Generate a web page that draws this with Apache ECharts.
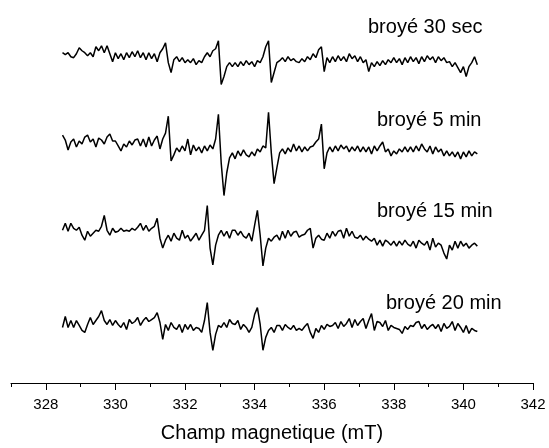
<!DOCTYPE html>
<html>
<head>
<meta charset="utf-8">
<script src="https://cdn.jsdelivr.net/npm/echarts@6/dist/echarts.min.js"></script>
<style>html,body{margin:0;padding:0;background:#fff}#c{width:549px;height:448px}</style>
</head>
<body>
<div id="c"></div>
<script>
// Field grid (mT) shared by all spectra
const fieldStart = 328.48;
const fieldStep = 0.08;
const xTicks = [328, 330, 332, 334, 336, 338, 340, 342];
const labels = ['broyé 30 sec', 'broyé 5 min', 'broyé 15 min', 'broyé 20 min'];

// EPR signal (arbitrary units, relative to each trace baseline)
const tr30sec = [
  2,0,2,-2,-3,1,7,4,2,-1,
  2,-2,8,4,9,2,9,1,-7,2,
  -4,1,-5,2,-3,3,-2,4,-3,2,
  -5,2,-4,1,-7,2,6,12,-8,-18,
  -5,-2,-7,-3,-8,-5,-8,-4,-10,-6,
  -8,-2,2,-2,4,6,14,-30,-22,-12,
  -8,-12,-8,-12,-7,-11,-6,-10,-7,-12,
  -6,-8,-2,8,14,-28,-18,-8,-6,-3,
  -7,-2,-6,-4,-7,-8,-4,-7,-2,-5,
  1,-3,5,8,-17,-3,-8,-2,-7,-1,
  -6,-2,-7,1,-4,-1,-7,-2,-8,-5,
  -17,-8,-12,-7,-11,-6,-10,-5,-8,-3,
  -8,-4,-10,-3,-8,-2,-7,-3,-9,-2,
  -7,-1,-5,-2,-8,-2,-6,-3,-8,-7,
  -12,-8,-13,-18,-12,-22,-12,-8,-2,-10
];
const tr5min = [
  8,3,-7,1,4,-4,2,-1,6,8,
  1,4,-4,5,3,-1,6,9,2,2,
  -3,-8,-1,-4,2,-2,3,4,-3,4,
  -4,6,-3,3,7,-6,4,10,27,-18,
  -12,-5,-9,-3,-8,4,-12,-2,-8,-4,
  -10,-3,-8,-2,-6,4,29,-20,-53,-30,
  -15,-10,-16,-8,-13,-7,-12,-14,-9,-13,
  -6,-9,-3,-5,31,-10,-41,-25,-10,-6,
  -11,-5,-9,-1,-8,-3,-9,-4,-8,-4,
  -3,1,4,19,-26,-10,-4,-9,-3,-8,
  -2,-6,-3,-9,-4,-8,-3,-9,-4,-9,
  -4,-11,-3,-8,-3,1,-9,-6,-13,-8,
  -11,-6,-9,-4,-9,-4,-9,-3,-8,-1,
  -6,-9,-3,-11,-4,-9,-6,-13,-8,-13,
  -9,-14,-9,-16,-9,-14,-8,-13,-9,-11
];
const tr15min = [
  3,10,2,10,5,3,6,-2,-7,2,
  -3,0,3,2,7,18,3,-2,5,1,
  2,5,2,3,2,5,3,6,10,3,
  8,2,5,7,15,-5,-15,-7,-2,-8,
  0,-5,-7,3,-5,-2,-8,-4,0,-7,
  -2,3,28,-15,-32,-12,-2,3,-3,2,
  -5,3,3,-2,2,-3,-5,0,-8,8,
  23,-2,-33,-15,-5,-8,-4,-2,-7,2,
  -5,3,-3,1,2,-4,-2,-1,3,5,
  -15,-5,-2,-6,-7,0,-5,2,-3,2,
  3,-5,5,-3,2,-4,-5,-2,-7,-3,
  -6,-8,-5,-12,-7,-13,-7,-9,-12,-8,
  -13,-8,-12,-7,-11,-13,-8,-15,-7,-10,
  -12,-8,-17,-5,-14,-10,-12,-20,-26,-12,
  -17,-8,-15,-8,-13,-10,-15,-12,-10,-13
];
const tr20min = [
  -3,8,-3,4,-3,4,-1,-6,-8,0,
  7,0,4,8,14,4,0,5,-1,4,
  0,-3,2,-5,5,1,3,7,-1,4,
  7,3,5,7,12,2,-15,0,-6,2,
  -3,-5,0,-8,0,-5,0,-6,-3,-4,
  -8,4,22,-8,-26,-10,-1,-3,2,-3,
  5,1,0,4,-5,0,-3,-8,-3,10,
  17,0,-26,-13,-6,-3,-8,-1,-1,-6,
  0,-3,-5,-1,-6,-4,-6,-2,1,-8,
  -14,-4,-8,-1,-5,0,-2,-1,2,-4,
  3,-2,1,6,-3,5,-1,3,6,-4,
  4,11,-6,3,2,-2,4,-6,-1,-3,
  -4,-5,-9,-2,-5,-1,-2,2,3,-4,
  0,-5,-2,0,-4,0,-7,1,-4,-2,
  3,-6,1,-3,-8,-1,-9,-4,-6,-7
];

// layout: vertical stacking offsets for the traces (plot units)
const traceOffsets = [331, 242, 151, 59];
const labelPos = [[368, 27], [377, 120], [377, 211], [386, 303]];

const traces = [tr30sec, tr5min, tr15min, tr20min];
const series = traces.map((arr, i) => ({
  type: 'line',
  showSymbol: false,
  symbol: 'none',
  animation: false,
  lineStyle: { color: '#000', width: 1.5 },
  data: arr.map((v, k) => [fieldStart + k * fieldStep, v + traceOffsets[i]])
}));

const chart = echarts.init(document.getElementById('c'), null, { renderer: 'canvas' });
chart.setOption({
  animation: false,
  backgroundColor: '#fff',
  grid: { left: 11, right: 16, top: 20, bottom: 62 },
  xAxis: [
    {
      type: 'value', min: 327, max: 342, interval: 1, position: 'bottom',
      axisLine: { show: true, lineStyle: { color: '#000', width: 1 } },
      axisTick: { show: true, length: 4, lineStyle: { color: '#000' } },
      splitLine: { show: false },
      axisLabel: {
        show: true, margin: 14, color: '#000', fontSize: 15,
        fontFamily: 'Liberation Sans, Arial, sans-serif',
        showMinLabel: true, showMaxLabel: true,
        formatter: v => (xTicks.indexOf(v) >= 0 ? String(v) : '')
      },
      name: 'Champ magnetique (mT)', nameLocation: 'middle', nameGap: 40,
      nameTextStyle: { color: '#000', fontSize: 20, fontFamily: 'Liberation Sans, Arial, sans-serif' }
    },
    {
      type: 'value', min: 327, max: 342, position: 'bottom',
      axisLine: { show: false },
      axisTick: { show: true, length: 7, customValues: xTicks, lineStyle: { color: '#000' } },
      axisLabel: { show: false },
      splitLine: { show: false }
    }
  ],
  yAxis: { type: 'value', min: 0, max: 366, show: false, splitLine: { show: false } },
  graphic: labels.map((t, i) => ({
    type: 'text', x: labelPos[i][0], y: labelPos[i][1],
    style: { text: t, fill: '#000', font: '20px "Liberation Sans", Arial, sans-serif', textVerticalAlign: 'middle' }
  })),
  series: series
});
</script>
</body>
</html>
